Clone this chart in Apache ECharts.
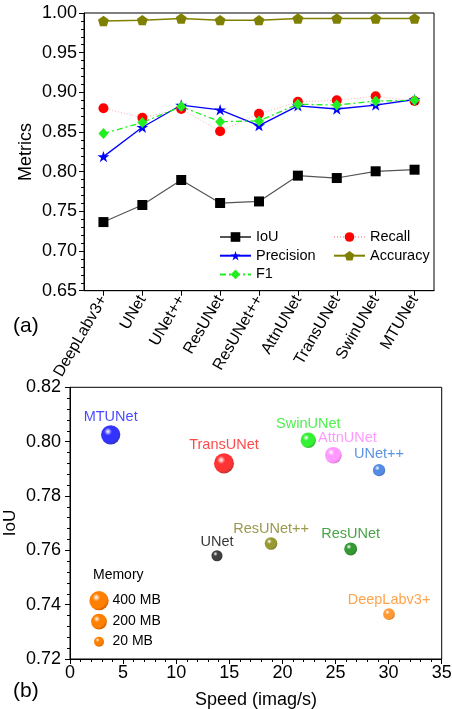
<!DOCTYPE html>
<html>
<head>
<meta charset="utf-8">
<script src="https://cdn.jsdelivr.net/npm/echarts@6/dist/echarts.min.js"></script>
<style>
html,body{margin:0;padding:0;background:#fff;}
#chart{width:452px;height:709px;}
</style>
</head>
<body>
<div id="chart"></div>
<script>
// ---------- data ----------
var categories = ['DeepLabv3+','UNet','UNet++','ResUNet','ResUNet++','AttnUNet','TransUNet','SwinUNet','MTUNet'];
var iou       = [0.7365,0.758,0.7895,0.7605,0.7625,0.795,0.792,0.8005,0.8025];
var precision = [0.819,0.856,0.884,0.878,0.858,0.883,0.879,0.884,0.891];
var f1        = [0.848,0.862,0.882,0.863,0.864,0.885,0.884,0.889,0.890];
var recall    = [0.880,0.868,0.879,0.851,0.873,0.888,0.890,0.895,0.889];
var accuracy  = [0.990,0.991,0.993,0.991,0.991,0.993,0.993,0.993,0.993];
var speed     = [30.04,13.84,29.1,26.43,18.93,24.8,14.5,22.44,3.83];
var memory    = [55,40,70,90,80,245,450,180,400];
var memoryLegend = [400,200,20];
var memoryLegendLabels = ['400 MB','200 MB','20 MB'];
var axisTitles = {top:'Metrics', bottomY:'IoU', bottomX:'Speed (imag/s)'};

// ---------- styles ----------
var FONT = "'Liberation Sans', Arial, sans-serif";
var bubbleBase = ['#ff8000','#111111','#2a6fdc','#008000','#808000','#ff80ff','#ff0000','#00ee00','#0000ff'];
var bubbleDark = ['#c85a00','#000000','#16459a','#004d00','#555500','#cc55cc','#a80000','#009a00','#0000a0'];
var labelColors = ['#ff8c1a','#000000','#3377dd','#1a8c1a','#808020','#ff80ff','#ff1a1a','#22ee22','#1a1aff'];
var labelOffsets = {'AttnUNet':[14,0]};
var labelDist = {'UNet++':3};

function sizeOf(m){ return 7.3 + 0.6*Math.sqrt(m); }
function sphere(base, dark){
  return {type:'radial', x:0.36, y:0.33, r:0.72, colorStops:[
    {offset:0, color:'#ffffff'},
    {offset:0.28, color:base},
    {offset:0.75, color:base},
    {offset:1, color:dark}]};
}

var starPath = 'path://M50,0 L61.2,34.5 L97.6,34.5 L68.2,55.9 L79.4,90.5 L50,69.1 L20.6,90.5 L31.8,55.9 L2.4,34.5 L38.8,34.5 Z';
var pentPath = 'path://M50,0 L97.6,34.5 L79.4,90.5 L20.6,90.5 L2.4,34.5 Z';

var bubbleData = categories.map(function(n,i){
  return {
    name:n,
    value:[speed[i], iou[i], memory[i]],
    itemStyle:{color:sphere(bubbleBase[i], bubbleDark[i])},
    label:{color:labelColors[i], offset:labelOffsets[n]||[0,0], distance:(labelDist[n]!=null?labelDist[n]:1)}
  };
});

var chart = echarts.init(document.getElementById('chart'), null, {renderer:'canvas'});

var axisCommon = {
  axisLine:{show:true, lineStyle:{color:'#000', width:1}},
  axisTick:{show:true, inside:false, length:5, lineStyle:{color:'#000'}},
  splitLine:{show:false},
  axisLabel:{color:'#000', fontFamily:FONT, fontSize:18}
};

var graphics = [
  {type:'text', left:13, top:316, style:{text:'(a)', font:'21px '+FONT, fill:'#000'}},
  {type:'text', left:13, top:681, style:{text:'(b)', font:'21px '+FONT, fill:'#000'}},
  {type:'text', left:93, top:568, style:{text:'Memory', font:'14px '+FONT, fill:'#000'}},
  {type:'text', x:26, y:152, rotation:Math.PI/2, style:{text:axisTitles.top, font:'18px '+FONT, fill:'#000', align:'center', verticalAlign:'middle'}},
  {type:'text', x:10.5, y:523, rotation:Math.PI/2, style:{text:axisTitles.bottomY, font:'17px '+FONT, fill:'#000', align:'center', verticalAlign:'middle'}},
  {type:'text', x:256, y:700, style:{text:axisTitles.bottomX, font:'18px '+FONT, fill:'#000', align:'center', verticalAlign:'middle'}}
];
var legendY = [600.7, 621.7, 641.7];
memoryLegend.forEach(function(m,i){
  var d = sizeOf(m);
  graphics.push({type:'circle', shape:{cx:99, cy:legendY[i], r:d/2}, style:{fill:sphere('#ff8000','#c85a00')}});
  graphics.push({type:'text', left:112.5, top:legendY[i]-8, style:{text:memoryLegendLabels[i], font:'14px '+FONT, fill:'#000'}});
});

var option = {
  animation:false,
  backgroundColor:'#fff',
  textStyle:{fontFamily:FONT},
  grid:[
    {left:84, top:13, width:350, height:277.7, show:true, borderColor:'#000', borderWidth:1, backgroundColor:'transparent', containLabel:false, outerBoundsMode:'none'},
    {left:70, top:387.3, width:371.7, height:271.7, show:true, borderColor:'#000', borderWidth:1, backgroundColor:'transparent', containLabel:false, outerBoundsMode:'none'}
  ],
  legend:[
    {left:214, top:224.5, orient:'vertical', itemWidth:31, itemHeight:12, itemGap:3.7,
     textStyle:{fontSize:14.5, color:'#000', fontFamily:FONT}, data:['IoU','Precision','F1']},
    {left:328, top:224.5, orient:'vertical', itemWidth:31, itemHeight:12, itemGap:3.7,
     textStyle:{fontSize:14.5, color:'#000', fontFamily:FONT}, data:['Recall','Accuracy']}
  ],
  xAxis:[
    Object.assign({}, axisCommon, {
      gridIndex:0, type:'category', data:categories, boundaryGap:true,
      axisTick:{show:true, alignWithLabel:true, length:5, lineStyle:{color:'#000'}},
      axisLabel:{color:'#000', fontFamily:FONT, fontSize:16, rotate:60, margin:6, interval:0}
    }),
    Object.assign({}, axisCommon, {
      gridIndex:1, type:'value', min:0, max:35, interval:5,
      minorTick:{show:true, splitNumber:5, length:3, lineStyle:{color:'#000'}},
      axisLabel:{color:'#000', fontFamily:FONT, fontSize:18, margin:5}
    })
  ],
  yAxis:[
    Object.assign({}, axisCommon, {
      gridIndex:0, type:'value', min:0.65, max:1.0, interval:0.05,
      minorTick:{show:true, splitNumber:5, length:3, lineStyle:{color:'#000'}},
      axisLabel:{color:'#000', fontFamily:FONT, fontSize:18, margin:7, formatter:function(v){return v.toFixed(2);}}
    }),
    Object.assign({}, axisCommon, {
      gridIndex:1, type:'value', min:0.72, max:0.82, interval:0.02,
      minorTick:{show:true, splitNumber:5, length:3, lineStyle:{color:'#000'}},
      axisLabel:{color:'#000', fontFamily:FONT, fontSize:18, margin:9, formatter:function(v){return v.toFixed(2);}}
    })
  ],
  series:[
    {name:'IoU', type:'line', xAxisIndex:0, yAxisIndex:0, data:iou,
     symbol:'rect', symbolSize:10, itemStyle:{color:'#000'}, lineStyle:{color:'#555', width:1.2}},
    {name:'Recall', type:'line', xAxisIndex:0, yAxisIndex:0, data:recall,
     symbol:'circle', symbolSize:10, itemStyle:{color:'#ff0000'}, lineStyle:{color:'#ffb0b0', width:1, type:[1,2]}},
    {name:'Precision', type:'line', xAxisIndex:0, yAxisIndex:0, data:precision,
     symbol:starPath, symbolKeepAspect:true, symbolSize:12, itemStyle:{color:'#0000ff'}, lineStyle:{color:'#0000ff', width:1.3}},
    {name:'F1', type:'line', xAxisIndex:0, yAxisIndex:0, data:f1,
     symbol:'diamond', symbolSize:[10,11], itemStyle:{color:'#22ee22'}, lineStyle:{color:'#22ee22', width:1.3, type:[6,3,2,3]}},
    {name:'Accuracy', type:'line', xAxisIndex:0, yAxisIndex:0, data:accuracy,
     symbol:pentPath, symbolKeepAspect:true, symbolSize:11, itemStyle:{color:'#808000'}, lineStyle:{color:'#808000', width:1.5}},
    {name:'Bubbles', type:'scatter', xAxisIndex:1, yAxisIndex:1, data:bubbleData,
     symbolSize:function(v){return sizeOf(v[2]);},
     label:{show:true, position:'top', formatter:'{b}', fontSize:14.5, fontFamily:FONT}}
  ],
  graphic:graphics
};
chart.setOption(option);
</script>
</body>
</html>
